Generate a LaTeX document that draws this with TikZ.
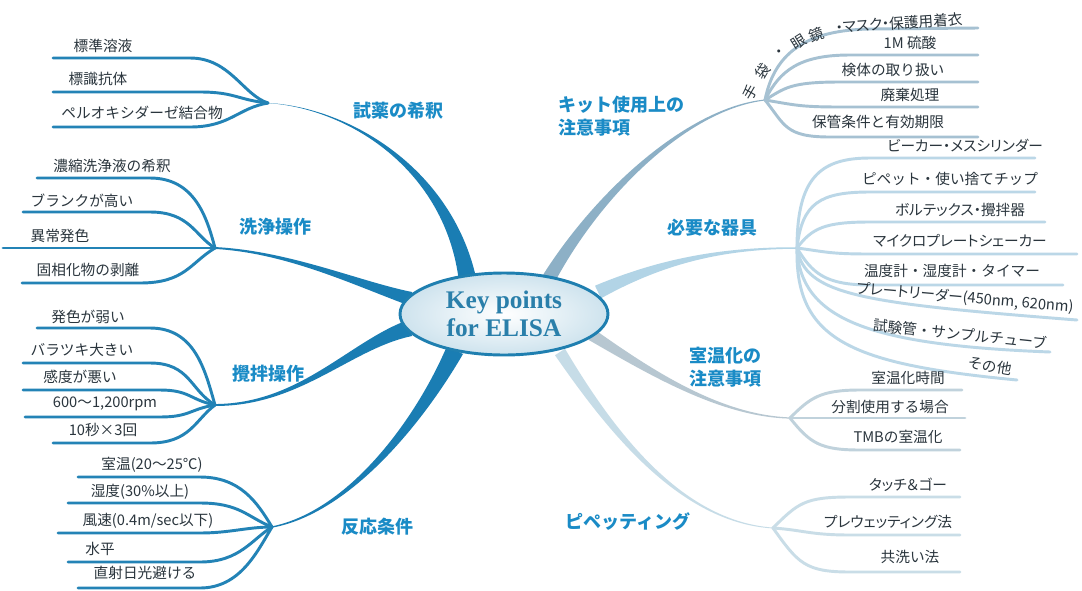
\documentclass[tikz,border=0pt]{standalone}
\usepackage{fontspec}
\setmainfont{Liberation Serif}
\newfontfamily\cjk{Noto Sans CJK JP}
\newfontfamily\cjkp{Noto Sans CJK JP}[RawFeature=+palt]
\usetikzlibrary{shapes.geometric,calc}
\definecolor{trL}{HTML}{1A7DB3}
\definecolor{lfL}{HTML}{2383B6}
\definecolor{lab}{HTML}{1A8BC6}
\definecolor{txt}{HTML}{2A353D}
\definecolor{trE}{HTML}{8DB0C6}
\definecolor{lfE}{HTML}{A6C1D2}
\definecolor{trF}{HTML}{B2D4E6}
\definecolor{lfF}{HTML}{BBD7E7}
\definecolor{trG}{HTML}{B7C7D1}
\definecolor{lfG}{HTML}{C0D2DC}
\definecolor{trH}{HTML}{C6DCE7}
\definecolor{lfH}{HTML}{C9DDE7}
\definecolor{ell}{HTML}{1F7FB0}
\definecolor{keyt}{HTML}{2A7FAA}
\newcommand{\mmtrunk}[6]{\fill[#1] ($(#2)+(#6)$) .. controls ($(#3)+0.45*(#6)$) and ($(#4)+0.15*(#6)$) .. ($(#5)+0.12*(#6)$) -- ($(#5)-0.12*(#6)$) .. controls ($(#4)-0.15*(#6)$) and ($(#3)-0.45*(#6)$) .. ($(#2)-(#6)$) -- cycle;}
\begin{document}
\begin{tikzpicture}[x=0.75pt,y=-0.75pt,
  leaf/.style={line width=2.2pt,line cap=round},
  ltext/.style={font=\cjk\fontsize{11}{13}\selectfont,text=txt,inner sep=0pt},
  ptext/.style={font=\cjkp\fontsize{11}{13}\selectfont,text=txt,inner sep=0pt},
  btext/.style={font=\cjk\bfseries\fontsize{13.5}{17}\selectfont,text=lab,inner sep=0pt}]
\useasboundingbox (0,0) rectangle (1082,590);
\fill[white] (0,0) rectangle (1082,590);
% hubs and trunk starts
\coordinate (hA) at (268,103);
\coordinate (hB) at (215,248);
\coordinate (hC) at (215,405);
\coordinate (hD) at (272,527);
\coordinate (hE) at (765,100);
\coordinate (hF) at (797,248);
\coordinate (hG) at (790,418);
\coordinate (hH) at (773,528);
\coordinate (sA) at (468,282);
\coordinate (sB) at (414,300);
\coordinate (sC) at (410,328);
\coordinate (sD) at (455,350);
\coordinate (sE) at (548,280);
\coordinate (sF) at (598,292);
\coordinate (sG) at (592,335);
\coordinate (sH) at (560,352);
% trunks
\mmtrunk{trL}{sA}{450,170}{350,108}{hA}{9,0}
\mmtrunk{trL}{sB}{360,285}{290,252}{hB}{2,8}
\mmtrunk{trL}{sC}{350,345}{300,405}{hC}{2,8}
\mmtrunk{trL}{sD}{420,420}{350,512}{hD}{8,4}
\mmtrunk{trE}{sE}{600,190}{690,108}{hE}{6,3.5}
\mmtrunk{trF}{sF}{660,262}{720,248}{hF}{3,6.3}
\mmtrunk{trG}{sG}{650,372}{720,416}{hG}{-3.2,5}
\mmtrunk{trH}{sH}{610,430}{680,522}{hH}{-5,3.2}
% leaf ends
\coordinate (a1) at (53,58); \coordinate (a2) at (53,92); \coordinate (a3) at (53,127);
\coordinate (b1) at (37,178); \coordinate (b2) at (23,212); \coordinate (b3) at (3,248); \coordinate (b4) at (22,283);
\coordinate (c1) at (37,328); \coordinate (c2) at (23,363); \coordinate (c3) at (23,390); \coordinate (c4) at (25,417); \coordinate (c5) at (53,443);
\coordinate (d1) at (78,477); \coordinate (d2) at (68,503); \coordinate (d3) at (58,533); \coordinate (d4) at (68,562); \coordinate (d5) at (78,588);
\coordinate (e1) at (978,28); \coordinate (e2) at (978,55); \coordinate (e3) at (978,82); \coordinate (e4) at (978,107); \coordinate (e5) at (978,137);
\coordinate (f1) at (1035,158); \coordinate (f2) at (1035,192); \coordinate (f3) at (1045,222); \coordinate (f4) at (1077,254); \coordinate (f5) at (1063,285); \coordinate (f6) at (1077,320); \coordinate (f7) at (1050,352); \coordinate (f8) at (1017,380);
\coordinate (g1) at (962,390); \coordinate (g2) at (965,418); \coordinate (g3) at (960,450);
\coordinate (k1) at (960,497); \coordinate (k2) at (960,535); \coordinate (k3) at (960,572);
% left leaves
\begin{scope}[leaf,draw=lfL]
\draw (a1) -- (190,58) .. controls +(40,0) and +(-25,-8) .. (hA);
\draw (a2) -- (200,92) .. controls +(35,0) and +(-30,-3) .. (hA);
\draw (a3) -- (190,127) .. controls +(40,0) and +(-30,5) .. (hA);
\draw (b1) -- (150,178) .. controls +(45,0) and +(-8,-30) .. (hB);
\draw (b2) -- (150,212) .. controls +(40,0) and +(-20,-12) .. (hB);
\draw (b3) -- (hB);
\draw (b4) -- (140,283) .. controls +(45,0) and +(-25,15) .. (hB);
\draw (c1) -- (150,328) .. controls +(45,0) and +(-10,-35) .. (hC);
\draw (c2) -- (150,363) .. controls +(40,0) and +(-25,-15) .. (hC);
\draw (c3) -- (160,390) .. controls +(30,0) and +(-25,-5) .. (hC);
\draw (c4) -- (160,417) .. controls +(30,0) and +(-25,4) .. (hC);
\draw (c5) -- (150,443) .. controls +(40,0) and +(-20,15) .. (hC);
\draw (d1) -- (200,477) .. controls +(40,0) and +(-15,-25) .. (hD);
\draw (d2) -- (200,503) .. controls +(40,0) and +(-25,-10) .. (hD);
\draw (d3) -- (200,533) .. controls +(30,0) and +(-25,0) .. (hD);
\draw (d4) -- (200,562) .. controls +(40,0) and +(-20,12) .. (hD);
\draw (d5) -- (200,588) .. controls +(40,0) and +(-15,25) .. (hD);
\end{scope}
% right leaves
\begin{scope}[leaf,draw=lfE]
\draw (hE) .. controls (775,50) and (810,30) .. (870,29) -- (e1);
\draw (hE) .. controls +(15,-30) and +(-50,0) .. (850,55) -- (e2);
\draw (hE) .. controls +(20,-12) and +(-50,0) .. (840,82) -- (e3);
\draw (hE) .. controls +(30,5) and +(-40,0) .. (840,107) -- (e4);
\draw (hE) .. controls +(20,25) and +(-45,0) .. (830,137) -- (e5);
\end{scope}
\begin{scope}[leaf,draw=lfF]
\draw (hF) .. controls +(0,-70) and +(-50,0) .. (870,158) -- (f1);
\draw (hF) .. controls +(5,-45) and +(-50,0) .. (870,192) -- (f2);
\draw (hF) .. controls +(15,-20) and +(-45,0) .. (870,222) -- (f3);
\draw (hF) .. controls +(30,4) and +(-40,0) .. (870,254) -- (f4);
\draw (hF) .. controls +(15,25) and +(-45,0) .. (870,285) -- (f5);
\draw (hF) .. controls (805,295) and (860,303) .. (f6);
\draw (hF) .. controls (800,320) and (870,345) .. (f7);
\draw (hF) .. controls (795,340) and (850,364) .. (f8);
\end{scope}
\begin{scope}[leaf,draw=lfG]
\draw (hG) .. controls +(20,-20) and +(-40,0) .. (860,390) -- (g1);
\draw (hG) -- (g2);
\draw (hG) .. controls +(20,25) and +(-40,0) .. (860,450) -- (g3);
\end{scope}
\begin{scope}[leaf,draw=lfH]
\draw (hH) .. controls +(25,-25) and +(-45,0) .. (850,497) -- (k1);
\draw (hH) .. controls +(30,2) and +(-40,0) .. (850,535) -- (k2);
\draw (hH) .. controls +(25,35) and +(-45,0) .. (850,572) -- (k3);
\end{scope}
% centre
\node[ellipse,draw=ell,line width=2.2pt,inner color=white,outer color=ell!22,
  minimum width=156pt,minimum height=61.5pt,align=center,
  font=\bfseries\fontsize{19}{21}\selectfont,text=keyt] (core) at (504,314) {Key points\\for ELISA};
% branch labels
\node[btext] (lA) at (398,111) {試薬の希釈};
\node[btext] (lB) at (275,227) {洗浄操作};
\node[btext] (lC) at (268,374) {攪拌操作};
\node[btext] (lD) at (377,527) {反応条件};
\node[btext,align=left,anchor=west] (lE) at (558,116) {キット使用上の\\注意事項};
\node[btext] (lF) at (712,228) {必要な器具};
\node[btext,align=center] (lG) at (725,367) {室温化の\\注意事項};
\node[btext] (lH) at (628,522) {ピペッティング};
% left leaf texts
\node[ltext] (tA1) at (103,46) {標準溶液};
\node[ltext] (tA2) at (98,79) {標識抗体};
\node[ltext] (tA3) at (142,113) {ペルオキシダーゼ結合物};
\node[ltext] (tB1) at (112,166) {濃縮洗浄液の希釈};
\node[ltext] (tB2) at (82,201) {ブランクが高い};
\node[ltext] (tB3) at (60,236) {異常発色};
\node[ltext] (tB4) at (88,270) {固相化物の剥離};
\node[ltext] (tC1) at (88,317) {発色が弱い};
\node[ltext] (tC2) at (82,350) {バラツキ大きい};
\node[ltext] (tC3) at (80,377) {感度が悪い};
\node[ltext] (tC4) at (105,404) {600～1,200rpm};
\node[ltext] (tC5) at (103,430) {10秒×3回};
\node[ltext] (tD1) at (152,465) {室温(20～25℃)};
\node[ltext] (tD2) at (140,492) {湿度(30\%以上)};
\node[ltext] (tD3) at (148,521) {風速(0.4m/sec以下)};
\node[ltext] (tD4) at (100,549) {水平};
\node[ltext] (tD5) at (145,573) {直射日光避ける};
% right leaf texts (first one bends up along its line)
\node[ltext,rotate=60] (tE1a) at (750,92) {手};
\node[ltext,rotate=52] (tE1b) at (763,71) {袋};
\node[ptext,rotate=42] (tE1c) at (781,53) {・};
\node[ltext,rotate=32] (tE1d) at (799,42) {眼};
\node[ltext,rotate=20] (tE1e) at (816,35) {鏡};
\node[ptext,rotate=4] (tE1f) at (899,23) {・マスク・保護用着衣};
\node[ltext] (tE2) at (910,43) {1M 硫酸};
\node[ltext] (tE3) at (893,70) {検体の取り扱い};
\node[ltext] (tE4) at (910,95) {廃棄処理};
\node[ltext] (tE5) at (878,122) {保管条件と有効期限};
\node[ptext] (tF1) at (965,146) {ビーカー・メスシリンダー};
\node[ltext] (tF2) at (950,179) {ピペット・使い捨てチップ};
\node[ptext] (tF3) at (960,210) {ボルテックス・攪拌器};
\node[ptext] (tF4) at (960,241) {マイクロプレートシェーカー};
\node[ltext] (tF5) at (952,271) {温度計・湿度計・タイマー};
\node[ptext,rotate=-5] (tF6) at (965,298) {プレートリーダー(450nm, 620nm)};
\node[ltext,rotate=-6] (tF7) at (960,334) {試験管・サンプルチューブ};
\node[ltext,rotate=-10] (tF8) at (990,366) {その他};
\node[ltext] (tG1) at (908,378) {室温化時間};
\node[ltext] (tG2) at (890,407) {分割使用する場合};
\node[ltext] (tG3) at (898,437) {TMBの室温化};
\node[ptext] (tH1) at (908,485) {タッチ＆ゴー};
\node[ptext] (tH2) at (888,522) {プレウェッティング法};
\node[ltext] (tH3) at (910,557) {共洗い法};
\end{tikzpicture}
\end{document}
